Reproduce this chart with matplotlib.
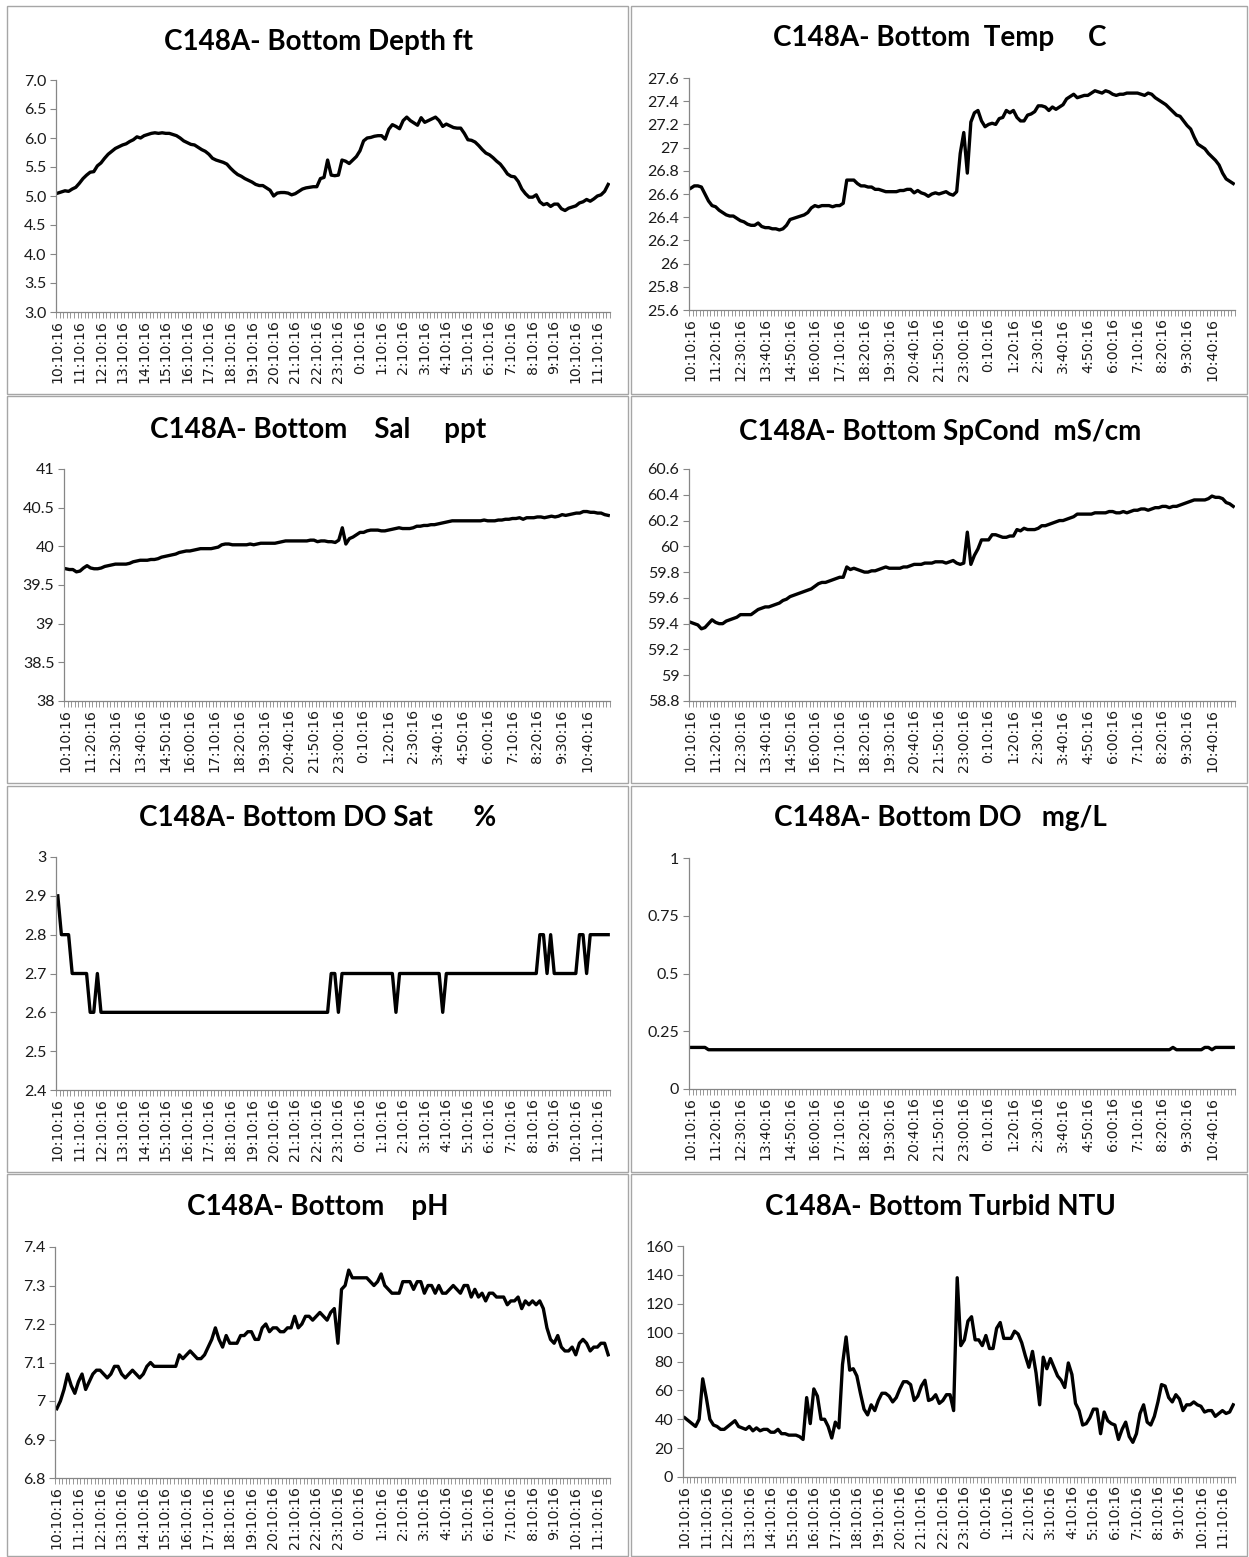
import matplotlib
matplotlib.use("Agg")
import matplotlib.pyplot as plt
from matplotlib.patches import Rectangle

# 10-minute readings, 10:10:16 to 11:40:16 next day
start_h, start_m, step_min = 10, 10, 10
n_points = 154

depth = [5.05, 5.07, 5.09, 5.08, 5.12, 5.15, 5.22, 5.3, 5.36, 5.41,
         5.42, 5.52, 5.57, 5.65, 5.72, 5.77, 5.82, 5.85, 5.88, 5.9,
         5.94, 5.97, 6.02, 6.0, 6.04, 6.06, 6.08, 6.09, 6.08, 6.09,
         6.08, 6.08, 6.06, 6.04, 6.0, 5.95, 5.92, 5.89, 5.88, 5.84,
         5.8, 5.77, 5.72, 5.65, 5.62, 5.6, 5.58, 5.55, 5.48, 5.42,
         5.37, 5.34, 5.3, 5.27, 5.24, 5.2, 5.18, 5.18, 5.14, 5.1,
         5.0, 5.05, 5.06, 5.06, 5.05, 5.02, 5.04, 5.08, 5.12, 5.14,
         5.15, 5.16, 5.16, 5.3, 5.32, 5.62, 5.36, 5.35, 5.36, 5.62,
         5.6, 5.56, 5.62, 5.68, 5.78, 5.95, 6.0, 6.01, 6.03, 6.04,
         6.04, 5.98, 6.15, 6.23, 6.2, 6.16, 6.3, 6.36, 6.3, 6.26,
         6.22, 6.35, 6.27, 6.3, 6.33, 6.36, 6.3, 6.2, 6.24, 6.21,
         6.18, 6.17, 6.17, 6.08, 5.97, 5.96, 5.93, 5.87, 5.8, 5.74,
         5.71, 5.66, 5.6, 5.55, 5.47, 5.38, 5.34, 5.33, 5.25, 5.12,
         5.04, 4.98, 4.98, 5.02, 4.9, 4.85, 4.87, 4.82, 4.86, 4.86,
         4.78, 4.75, 4.79, 4.81, 4.83, 4.88, 4.9, 4.94, 4.91, 4.95,
         5.0, 5.02, 5.08, 5.2]

temp = [26.65, 26.67, 26.67, 26.66, 26.6, 26.54, 26.5, 26.49, 26.46, 26.44,
        26.42, 26.41, 26.41, 26.39, 26.37, 26.36, 26.34, 26.33, 26.33, 26.35,
        26.32, 26.31, 26.31, 26.3, 26.3, 26.29, 26.3, 26.33, 26.38, 26.39,
        26.4, 26.41, 26.42, 26.44, 26.48, 26.5, 26.49, 26.5, 26.5, 26.5,
        26.49, 26.5, 26.5, 26.52, 26.72, 26.72, 26.72, 26.69, 26.67, 26.67,
        26.66, 26.66, 26.64, 26.64, 26.63, 26.62, 26.62, 26.62, 26.62, 26.63,
        26.63, 26.64, 26.64, 26.61, 26.63, 26.61, 26.6, 26.58, 26.6, 26.61,
        26.6, 26.61, 26.62, 26.6, 26.59, 26.62, 26.95, 27.13, 26.78, 27.22,
        27.3, 27.32, 27.23, 27.18, 27.2, 27.21, 27.2, 27.25, 27.26, 27.32,
        27.3, 27.32, 27.26, 27.23, 27.23, 27.28, 27.29, 27.31, 27.36, 27.36,
        27.35, 27.32, 27.35, 27.33, 27.35, 27.37, 27.42, 27.44, 27.46, 27.43,
        27.44, 27.45, 27.45, 27.47, 27.49, 27.48, 27.47, 27.49, 27.48, 27.46,
        27.45, 27.46, 27.46, 27.47, 27.47, 27.47, 27.47, 27.46, 27.45, 27.47,
        27.46, 27.43, 27.41, 27.39, 27.37, 27.34, 27.31, 27.28, 27.27, 27.23,
        27.19, 27.16, 27.09, 27.03, 27.01, 26.99, 26.95, 26.92, 26.89, 26.85,
        26.78, 26.73, 26.71, 26.69]

sal = [39.71, 39.7, 39.7, 39.67, 39.68, 39.72, 39.75, 39.72, 39.71, 39.71,
       39.72, 39.74, 39.75, 39.76, 39.77, 39.77, 39.77, 39.77, 39.78, 39.8,
       39.81, 39.82, 39.82, 39.82, 39.83, 39.83, 39.84, 39.86, 39.87, 39.88,
       39.89, 39.9, 39.92, 39.93, 39.94, 39.94, 39.95, 39.96, 39.97, 39.97,
       39.97, 39.97, 39.98, 39.99, 40.02, 40.03, 40.03, 40.02, 40.02, 40.02,
       40.02, 40.02, 40.03, 40.02, 40.03, 40.04, 40.04, 40.04, 40.04, 40.04,
       40.05, 40.06, 40.07, 40.07, 40.07, 40.07, 40.07, 40.07, 40.07, 40.08,
       40.08, 40.06, 40.07, 40.07, 40.06, 40.06, 40.05, 40.08, 40.24, 40.03,
       40.1, 40.12, 40.15, 40.18, 40.18, 40.2, 40.21, 40.21, 40.21, 40.2,
       40.2, 40.21, 40.22, 40.23, 40.24, 40.23, 40.23, 40.23, 40.24, 40.26,
       40.26, 40.27, 40.27, 40.28, 40.28, 40.29, 40.3, 40.31, 40.32, 40.33,
       40.33, 40.33, 40.33, 40.33, 40.33, 40.33, 40.33, 40.33, 40.34, 40.33,
       40.33, 40.33, 40.34, 40.34, 40.35, 40.35, 40.36, 40.36, 40.37, 40.35,
       40.37, 40.37, 40.37, 40.38, 40.38, 40.37, 40.38, 40.39, 40.38, 40.39,
       40.41, 40.4, 40.41, 40.42, 40.43, 40.43, 40.45, 40.45, 40.44, 40.44,
       40.43, 40.43, 40.41, 40.4]

spcond = [59.41, 59.4, 59.39, 59.36, 59.37, 59.4, 59.43, 59.41, 59.4, 59.4,
          59.42, 59.43, 59.44, 59.45, 59.47, 59.47, 59.47, 59.47, 59.49, 59.51,
          59.52, 59.53, 59.53, 59.54, 59.55, 59.56, 59.58, 59.59, 59.61, 59.62,
          59.63, 59.64, 59.65, 59.66, 59.67, 59.69, 59.71, 59.72, 59.72, 59.73,
          59.74, 59.75, 59.76, 59.76, 59.84, 59.82, 59.83, 59.82, 59.81, 59.8,
          59.8, 59.81, 59.81, 59.82, 59.83, 59.84, 59.83, 59.83, 59.83, 59.83,
          59.84, 59.84, 59.85, 59.86, 59.86, 59.86, 59.87, 59.87, 59.87, 59.88,
          59.88, 59.88, 59.87, 59.88, 59.89, 59.87, 59.86, 59.87, 60.11, 59.86,
          59.93, 59.98, 60.05, 60.05, 60.05, 60.09, 60.09, 60.08, 60.07, 60.07,
          60.08, 60.08, 60.13, 60.12, 60.14, 60.13, 60.13, 60.13, 60.14, 60.16,
          60.16, 60.17, 60.18, 60.19, 60.2, 60.2, 60.21, 60.22, 60.23, 60.25,
          60.25, 60.25, 60.25, 60.25, 60.26, 60.26, 60.26, 60.26, 60.27, 60.27,
          60.26, 60.26, 60.27, 60.26, 60.27, 60.28, 60.28, 60.29, 60.29, 60.28,
          60.29, 60.3, 60.3, 60.31, 60.31, 60.3, 60.31, 60.31, 60.32, 60.33,
          60.34, 60.35, 60.36, 60.36, 60.36, 60.36, 60.37, 60.39, 60.38, 60.38,
          60.37, 60.34, 60.33, 60.31]

do_sat = [2.9, 2.8, 2.8, 2.8, 2.7, 2.7, 2.7, 2.7, 2.7, 2.6,
          2.6, 2.7, 2.6, 2.6, 2.6, 2.6, 2.6, 2.6, 2.6, 2.6,
          2.6, 2.6, 2.6, 2.6, 2.6, 2.6, 2.6, 2.6, 2.6, 2.6,
          2.6, 2.6, 2.6, 2.6, 2.6, 2.6, 2.6, 2.6, 2.6, 2.6,
          2.6, 2.6, 2.6, 2.6, 2.6, 2.6, 2.6, 2.6, 2.6, 2.6,
          2.6, 2.6, 2.6, 2.6, 2.6, 2.6, 2.6, 2.6, 2.6, 2.6,
          2.6, 2.6, 2.6, 2.6, 2.6, 2.6, 2.6, 2.6, 2.6, 2.6,
          2.6, 2.6, 2.6, 2.6, 2.6, 2.6, 2.7, 2.7, 2.6, 2.7,
          2.7, 2.7, 2.7, 2.7, 2.7, 2.7, 2.7, 2.7, 2.7, 2.7,
          2.7, 2.7, 2.7, 2.7, 2.6, 2.7, 2.7, 2.7, 2.7, 2.7,
          2.7, 2.7, 2.7, 2.7, 2.7, 2.7, 2.7, 2.6, 2.7, 2.7,
          2.7, 2.7, 2.7, 2.7, 2.7, 2.7, 2.7, 2.7, 2.7, 2.7,
          2.7, 2.7, 2.7, 2.7, 2.7, 2.7, 2.7, 2.7, 2.7, 2.7,
          2.7, 2.7, 2.7, 2.7, 2.8, 2.8, 2.7, 2.8, 2.7, 2.7,
          2.7, 2.7, 2.7, 2.7, 2.7, 2.8, 2.8, 2.7, 2.8, 2.8,
          2.8, 2.8, 2.8, 2.8]

do_mgl = [0.18, 0.18, 0.18, 0.18, 0.18, 0.17, 0.17, 0.17, 0.17, 0.17,
          0.17, 0.17, 0.17, 0.17, 0.17, 0.17, 0.17, 0.17, 0.17, 0.17,
          0.17, 0.17, 0.17, 0.17, 0.17, 0.17, 0.17, 0.17, 0.17, 0.17,
          0.17, 0.17, 0.17, 0.17, 0.17, 0.17, 0.17, 0.17, 0.17, 0.17,
          0.17, 0.17, 0.17, 0.17, 0.17, 0.17, 0.17, 0.17, 0.17, 0.17,
          0.17, 0.17, 0.17, 0.17, 0.17, 0.17, 0.17, 0.17, 0.17, 0.17,
          0.17, 0.17, 0.17, 0.17, 0.17, 0.17, 0.17, 0.17, 0.17, 0.17,
          0.17, 0.17, 0.17, 0.17, 0.17, 0.17, 0.17, 0.17, 0.17, 0.17,
          0.17, 0.17, 0.17, 0.17, 0.17, 0.17, 0.17, 0.17, 0.17, 0.17,
          0.17, 0.17, 0.17, 0.17, 0.17, 0.17, 0.17, 0.17, 0.17, 0.17,
          0.17, 0.17, 0.17, 0.17, 0.17, 0.17, 0.17, 0.17, 0.17, 0.17,
          0.17, 0.17, 0.17, 0.17, 0.17, 0.17, 0.17, 0.17, 0.17, 0.17,
          0.17, 0.17, 0.17, 0.17, 0.17, 0.17, 0.17, 0.17, 0.17, 0.17,
          0.17, 0.17, 0.17, 0.17, 0.17, 0.17, 0.18, 0.17, 0.17, 0.17,
          0.17, 0.17, 0.17, 0.17, 0.17, 0.18, 0.18, 0.17, 0.18, 0.18,
          0.18, 0.18, 0.18, 0.18]

ph = [6.98, 7.0, 7.03, 7.07, 7.04, 7.02, 7.05, 7.07, 7.03, 7.05,
      7.07, 7.08, 7.08, 7.07, 7.06, 7.07, 7.09, 7.09, 7.07, 7.06,
      7.07, 7.08, 7.07, 7.06, 7.07, 7.09, 7.1, 7.09, 7.09, 7.09,
      7.09, 7.09, 7.09, 7.09, 7.12, 7.11, 7.12, 7.13, 7.12, 7.11,
      7.11, 7.12, 7.14, 7.16, 7.19, 7.16, 7.14, 7.17, 7.15, 7.15,
      7.15, 7.17, 7.17, 7.18, 7.18, 7.16, 7.16, 7.19, 7.2, 7.18,
      7.19, 7.19, 7.18, 7.18, 7.19, 7.19, 7.22, 7.19, 7.2, 7.22,
      7.22, 7.21, 7.22, 7.23, 7.22, 7.21, 7.23, 7.24, 7.15, 7.29,
      7.3, 7.34, 7.32, 7.32, 7.32, 7.32, 7.32, 7.31, 7.3, 7.31,
      7.33, 7.3, 7.29, 7.28, 7.28, 7.28, 7.31, 7.31, 7.31, 7.29,
      7.31, 7.31, 7.28, 7.3, 7.3, 7.28, 7.3, 7.28, 7.28, 7.29,
      7.3, 7.29, 7.28, 7.3, 7.3, 7.27, 7.29, 7.27, 7.28, 7.26,
      7.28, 7.28, 7.27, 7.27, 7.27, 7.25, 7.26, 7.26, 7.27, 7.24,
      7.26, 7.25, 7.26, 7.25, 7.26, 7.24, 7.19, 7.16, 7.15, 7.17,
      7.14, 7.13, 7.13, 7.14, 7.12, 7.15, 7.16, 7.15, 7.13, 7.14,
      7.14, 7.15, 7.15, 7.12]

turbid = [41, 39, 37, 35, 40, 68, 55, 40, 36, 35,
          33, 33, 35, 37, 39, 35, 34, 33, 35, 32,
          34, 32, 33, 33, 31, 31, 33, 30, 30, 29,
          29, 29, 28, 26, 55, 37, 61, 56, 40, 40,
          35, 27, 38, 34, 78, 97, 74, 75, 70, 58,
          47, 43, 50, 46, 53, 58, 58, 56, 52, 55,
          61, 66, 66, 64, 53, 56, 63, 67, 53, 54,
          57, 51, 53, 57, 57, 46, 138, 91, 95, 108,
          111, 95, 95, 91, 98, 89, 89, 103, 107, 96,
          96, 96, 101, 99, 93, 84, 76, 87, 72, 50,
          83, 75, 82, 76, 70, 67, 62, 79, 71, 51,
          46, 36, 37, 41, 47, 47, 30, 45, 39, 37,
          36, 26, 33, 38, 28, 24, 30, 44, 50, 38,
          36, 42, 52, 64, 63, 55, 52, 57, 54, 46,
          50, 50, 52, 50, 49, 45, 46, 46, 42, 44,
          46, 44, 45, 50]

# category labels (h:mm:ss, no leading zero on the hour)
times = []
for k in range(n_points):
    tot = start_h * 60 + start_m + k * step_min
    times.append(f"{(tot // 60) % 24}:{tot % 60:02d}:16")

W, H = 1249, 1557
fig = plt.figure(figsize=(W / 100, H / 100), dpi=100)

# chart frames: (x0, y0, x1, y1) in pixels
frames = [(7, 6, 628, 394), (631, 6, 1247, 394),
          (7, 396, 628, 783), (631, 396, 1247, 783),
          (7, 786, 628, 1172), (631, 786, 1247, 1172),
          (7, 1174, 628, 1556), (631, 1174, 1247, 1556)]
for x0, y0, x1, y1 in frames:
    fig.patches.append(Rectangle((x0 / W, 1 - y1 / H), (x1 - x0) / W, (y1 - y0) / H,
                                 transform=fig.transFigure, fill=False,
                                 edgecolor="#a6a6a6", linewidth=1.0))

panels = [
    dict(title="C148A- Bottom Depth ft", data=depth, box=(56, 80, 610, 312), ty=42,
         ylim=(3.0, 7.0), yticks=[3.0, 3.5, 4.0, 4.5, 5.0, 5.5, 6.0, 6.5, 7.0],
         ylabels=["3.0", "3.5", "4.0", "4.5", "5.0", "5.5", "6.0", "6.5", "7.0"], every=6),
    dict(title="C148A- Bottom  Temp     C", data=temp, box=(689, 78, 1235, 310), ty=38,
         ylim=(25.6, 27.6), yticks=[25.6, 25.8, 26, 26.2, 26.4, 26.6, 26.8, 27, 27.2, 27.4, 27.6],
         ylabels=["25.6", "25.8", "26", "26.2", "26.4", "26.6", "26.8", "27", "27.2", "27.4", "27.6"],
         every=7),
    dict(title="C148A- Bottom    Sal     ppt", data=sal, box=(64, 469, 610, 701), ty=430,
         ylim=(38, 41), yticks=[38, 38.5, 39, 39.5, 40, 40.5, 41],
         ylabels=["38", "38.5", "39", "39.5", "40", "40.5", "41"], every=7),
    dict(title="C148A- Bottom SpCond  mS/cm", data=spcond, box=(689, 469, 1235, 701), ty=432,
         ylim=(58.8, 60.6), yticks=[58.8, 59, 59.2, 59.4, 59.6, 59.8, 60, 60.2, 60.4, 60.6],
         ylabels=["58.8", "59", "59.2", "59.4", "59.6", "59.8", "60", "60.2", "60.4", "60.6"],
         every=7),
    dict(title="C148A- Bottom DO Sat      %", data=do_sat, box=(56, 857, 610, 1090), ty=818,
         ylim=(2.4, 3.0), yticks=[2.4, 2.5, 2.6, 2.7, 2.8, 2.9, 3.0],
         ylabels=["2.4", "2.5", "2.6", "2.7", "2.8", "2.9", "3"], every=6),
    dict(title="C148A- Bottom DO   mg/L", data=do_mgl, box=(689, 858, 1235, 1089), ty=818,
         ylim=(0, 1), yticks=[0, 0.25, 0.5, 0.75, 1],
         ylabels=["0", "0.25", "0.5", "0.75", "1"], every=7),
    dict(title="C148A- Bottom    pH", data=ph, box=(55, 1247, 610, 1478), ty=1207,
         ylim=(6.8, 7.4), yticks=[6.8, 6.9, 7.0, 7.1, 7.2, 7.3, 7.4],
         ylabels=["6.8", "6.9", "7", "7.1", "7.2", "7.3", "7.4"], every=6),
    dict(title="C148A- Bottom Turbid NTU", data=turbid, box=(683, 1246, 1235, 1477), ty=1207,
         ylim=(0, 160), yticks=[0, 20, 40, 60, 80, 100, 120, 140, 160],
         ylabels=["0", "20", "40", "60", "80", "100", "120", "140", "160"], every=6),
]

axis_grey = "#868686"
for i, p in enumerate(panels):
    l, t, r, b = p["box"]
    ax = fig.add_axes([l / W, 1 - b / H, (r - l) / W, (b - t) / H])
    x = list(range(n_points))
    ax.plot(x, p["data"], color="black", linewidth=2.4, solid_joinstyle="round")
    ax.set_xlim(-0.5, n_points - 0.5)
    ax.set_ylim(*p["ylim"])
    for s in ["top", "right"]:
        ax.spines[s].set_visible(False)
    for s in ["left", "bottom"]:
        ax.spines[s].set_color(axis_grey)
        ax.spines[s].set_linewidth(0.9)
    ax.set_yticks(p["yticks"])
    ax.set_yticklabels(p["ylabels"], fontfamily="Lato", fontsize=11.5, color="#1a1a1a")
    ax.tick_params(axis="y", direction="out", length=4, width=0.8, color=axis_grey, pad=3)
    pos = list(range(0, n_points, p["every"]))
    ax.set_xticks(pos)
    ax.set_xticklabels([times[k] for k in pos], rotation=90, fontfamily="DejaVu Sans",
                       fontsize=10.2, color="#1a1a1a")
    ax.tick_params(axis="x", which="major", length=0, pad=6)
    ax.set_xticks([k - 0.5 for k in range(n_points + 1)], minor=True)
    ax.tick_params(axis="x", which="minor", direction="out", length=4, width=0.6, color=axis_grey)
    cx = 318 if i % 2 == 0 else 940
    fig.text(cx / W, 1 - p["ty"] / H, p["title"], ha="center", va="center",
             fontfamily="Lato", fontweight="bold", fontsize=20, color="black")

fig.savefig("out.png", dpi=100)
